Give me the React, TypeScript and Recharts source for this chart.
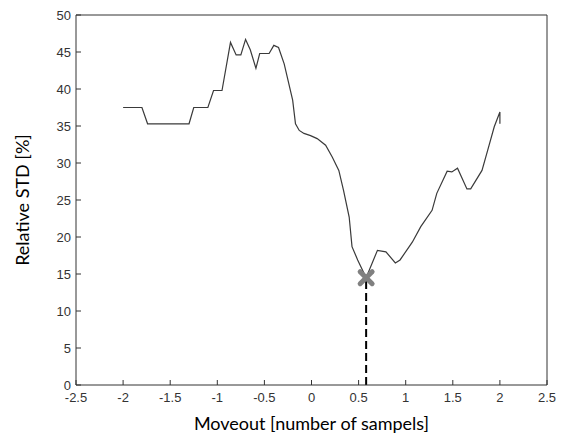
import { ComposedChart, Line, Scatter, XAxis, YAxis } from 'recharts'

// relative std vs moveout
const moveout = [
  -2.0, -1.8, -1.74, -1.3, -1.25, -1.1, -1.04, -0.95, -0.86, -0.8, -0.75, -0.7, -0.65, -0.59, -0.55,
  -0.45, -0.4, -0.35, -0.29, -0.2, -0.17, -0.13, -0.08, -0.01, 0.06, 0.15, 0.22, 0.29, 0.34, 0.4,
  0.43, 0.49, 0.58, 0.7, 0.79, 0.89, 0.94, 1.07, 1.16, 1.28, 1.33, 1.44, 1.49, 1.55, 1.65, 1.69,
  1.81, 1.87, 1.94, 2.0, 2.0,
]
const relStd = [
  37.5, 37.5, 35.3, 35.3, 37.5, 37.5, 39.8, 39.8, 46.3, 44.6, 44.6, 46.7, 45.3, 42.8, 44.8,
  44.8, 45.9, 45.6, 43.4, 38.5, 35.3, 34.4, 34.0, 33.7, 33.3, 32.4, 30.8, 29.0, 26.3, 22.7,
  18.7, 16.9, 14.5, 18.2, 18.0, 16.5, 16.9, 19.3, 21.4, 23.6, 25.9, 28.9, 28.8, 29.3, 26.5, 26.5,
  29.0, 31.7, 34.9, 36.9, 35.3,
]
const minX = [0.58]
const minY = [14.5]
const xTicks = [-2.5, -2, -1.5, -1, -0.5, 0, 0.5, 1, 1.5, 2, 2.5]
const yTicks = [0, 5, 10, 15, 20, 25, 30, 35, 40, 45, 50]

const curve = moveout.map((x, i) => ({ x, y: relStd[i] }))
const best = minX.map((x, i) => ({ x, y: minY[i] }))
const drop = [{ x: minX[0], y: 0 }, { x: minX[0], y: minY[0] }]

const tickFont = { fontFamily: '"Liberation Sans", Arial, sans-serif', fontSize: 13, fill: '#333' }
const titleFont = { fontFamily: 'Lato, "Open Sans", sans-serif', fontSize: 18, fill: '#000' }
const GAP = 8

const BottomTick = (p: any) => (
  <g>
    <line x1={p.x} x2={p.x} y1={p.y - GAP} y2={p.y - GAP - 5} stroke="#333" />
    <text x={p.x} y={p.y} dy="0.71em" textAnchor="middle" {...tickFont}>{p.payload.value}</text>
  </g>
)

const LeftTick = (p: any) => (
  <g>
    <line x1={p.x + 5} x2={p.x + 10} y1={p.y} y2={p.y} stroke="#333" />
    <text x={p.x} y={p.y} dy="0.355em" textAnchor="end" {...tickFont}>{p.payload.value}</text>
  </g>
)

const Cross = (p: any) => {
  const { cx, cy } = p
  const r = 6
  return (
    <g stroke="#808080" strokeWidth={5} strokeLinecap="round">
      <line x1={cx - r} y1={cy - r} x2={cx + r} y2={cy + r} />
      <line x1={cx - r} y1={cy + r} x2={cx + r} y2={cy - r} />
    </g>
  )
}

export default function App() {
  return (
    <div style={{ position: 'absolute', left: 0, top: 0, width: 565, height: 433, background: '#fff' }}>
      <ComposedChart width={565} height={433} margin={{ top: 15, right: 18, left: 0, bottom: 0 }}>
        <XAxis
          xAxisId="b"
          dataKey="x"
          type="number"
          domain={[-2.5, 2.5]}
          ticks={xTicks}
          interval={0}
          height={48}
          tickSize={0}
          tickMargin={GAP}
          tickLine={false}
          stroke="#333"
          tick={<BottomTick />}
          label={{ value: 'Moveout [number of sampels]', position: 'insideBottom', offset: 3, style: titleFont }}
        />
        <XAxis
          xAxisId="t"
          orientation="top"
          mirror
          type="number"
          domain={[-2.5, 2.5]}
          ticks={xTicks}
          interval={0}
          tickSize={5}
          tick={false}
          stroke="#333"
        />
        <YAxis
          yAxisId="l"
          type="number"
          domain={[0, 50]}
          ticks={yTicks}
          interval={0}
          width={76}
          tickSize={0}
          tickMargin={5}
          tickLine={false}
          stroke="#333"
          tick={<LeftTick />}
          label={{ value: 'Relative STD [%]', angle: -90, position: 'insideLeft', offset: 23, style: { ...titleFont, textAnchor: 'middle' } }}
        />
        <YAxis
          yAxisId="r"
          orientation="right"
          mirror
          type="number"
          domain={[0, 50]}
          ticks={yTicks}
          interval={0}
          tickSize={5}
          tick={false}
          stroke="#333"
        />
        <Line
          xAxisId="b"
          yAxisId="l"
          data={curve}
          dataKey="y"
          type="linear"
          stroke="#3a3a3a"
          strokeWidth={1.2}
          dot={false}
          isAnimationActive={false}
        />
        <Line
          xAxisId="b"
          yAxisId="l"
          data={drop}
          dataKey="y"
          type="linear"
          stroke="#000"
          strokeWidth={2}
          strokeDasharray="8 4"
          dot={false}
          isAnimationActive={false}
        />
        <Scatter xAxisId="b" yAxisId="l" data={best} dataKey="y" shape={<Cross />} isAnimationActive={false} />
      </ComposedChart>
    </div>
  )
}
